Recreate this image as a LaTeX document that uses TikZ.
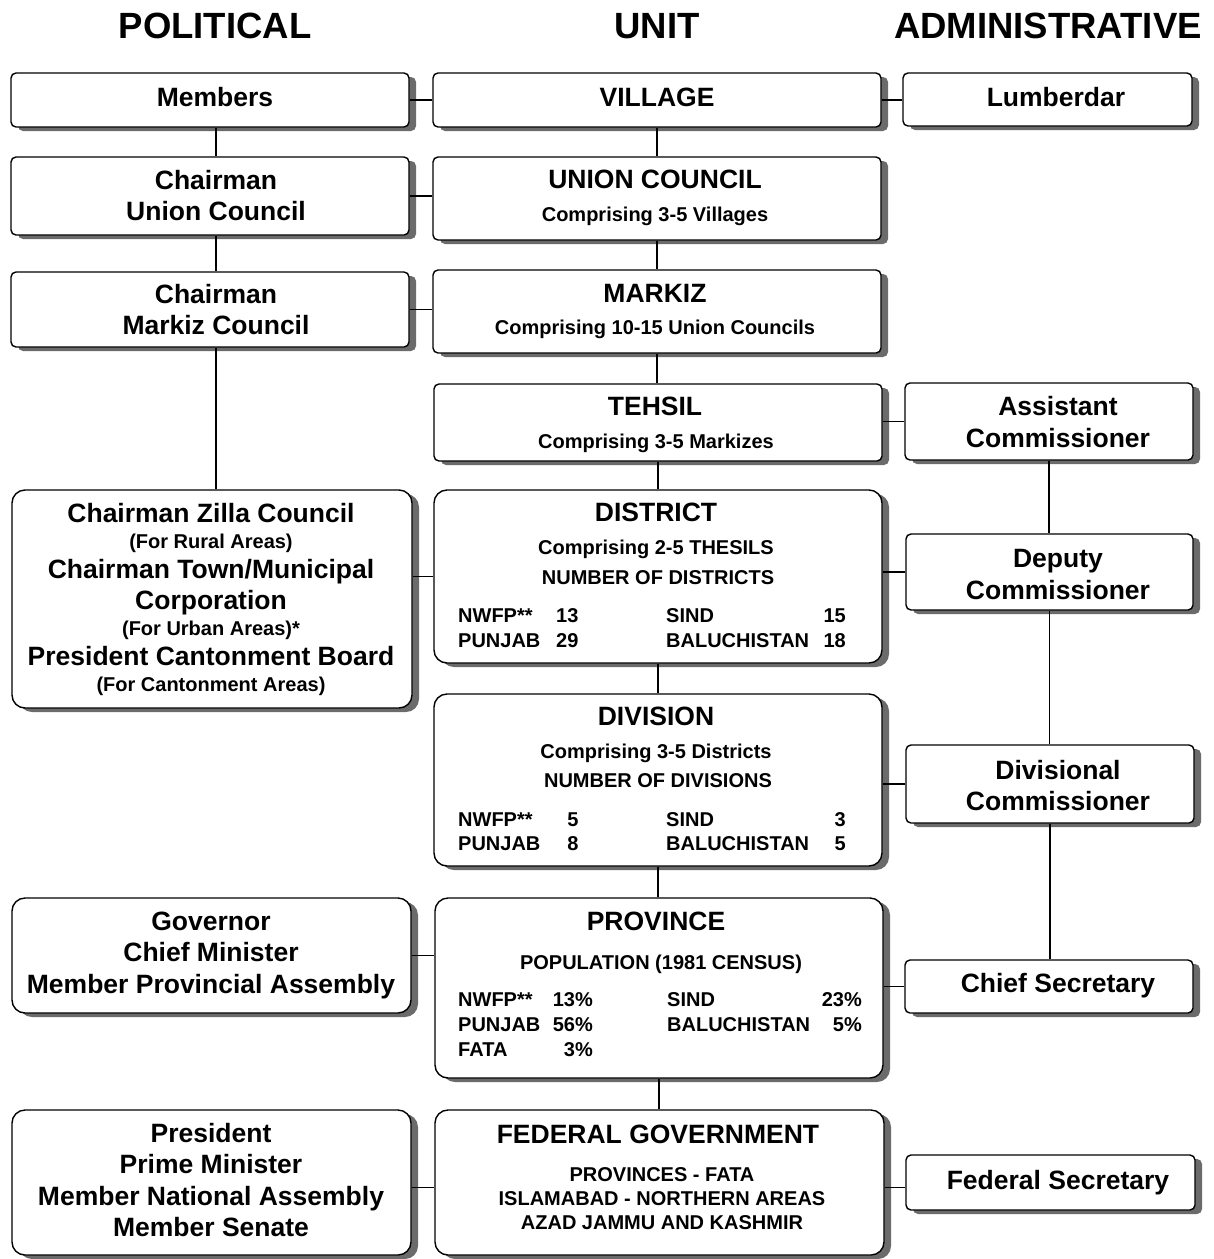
\documentclass[tikz,border=0pt]{standalone}
\usepackage{fontspec}
\setmainfont{Liberation Sans}
\usetikzlibrary{shadows}
\definecolor{shade}{gray}{0.42}
\newcommand\mkbox[6]{\node[#1, minimum width={#5-#3}, minimum height={#6-#4}] (#2) at ({(#3+#5)/2},{(#4+#6)/2}) {};}
\newcommand\tx[5]{\node[#1] (#2) at (#3,#4) {#5};}
\tikzset{
  box/.style={draw, line width=1.4pt, fill=white, rounded corners=5pt, inner sep=0pt,
    drop shadow={shadow xshift=7pt, shadow yshift=-4pt, fill=shade, opacity=1}},
  bigbox/.style={box, rounded corners=13pt},
  hdr/.style={font=\fontsize{36.5}{40}\selectfont\bfseries, inner sep=0pt, anchor=base},
  bigt/.style={font=\fontsize{26.5}{31}\selectfont\bfseries, inner sep=0pt, anchor=base},
  smallt/.style={font=\fontsize{20}{24}\selectfont\bfseries, inner sep=0pt, anchor=base},
  lt/.style={smallt, anchor=base west},
  rt/.style={smallt, anchor=base east},
  conn/.style={line width=1.1pt}
}
\begin{document}
\begin{tikzpicture}[x=1pt, y=-1pt]
\fill[white] (0,0) rectangle (1214,1259);
\useasboundingbox (0,0) rectangle (1214,1259);
% headers
\tx{hdr}{hpol}{215}{38}{POLITICAL}
\tx{hdr}{hunit}{657}{38}{UNIT}
\tx{hdr}{hadm}{1048}{38}{ADMINISTRATIVE}
% boxes left
\mkbox{box}{bmem}{11}{73}{409}{127}
\mkbox{box}{bucp}{11}{157}{409}{235}
\mkbox{box}{bmkp}{11}{272}{409}{347}
\mkbox{bigbox}{bzil}{12}{490}{412}{708}
\mkbox{bigbox}{bgov}{12}{898}{411}{1013}
\mkbox{bigbox}{bpre}{12}{1110}{411}{1255}
% boxes middle
\mkbox{box}{bvil}{433}{73}{881}{127}
\mkbox{box}{bucm}{433}{157}{881}{240}
\mkbox{box}{bmkm}{433}{270}{881}{353}
\mkbox{box}{bteh}{434}{384}{882}{461}
\mkbox{bigbox}{bdis}{434}{490}{882}{663}
\mkbox{bigbox}{bdiv}{434}{694}{882}{866}
\mkbox{bigbox}{bprv}{435}{898}{883}{1078}
\mkbox{bigbox}{bfed}{435}{1110}{884}{1255}
% boxes right
\mkbox{box}{blum}{903}{73}{1192}{126}
\mkbox{box}{bass}{905}{383}{1193}{460}
\mkbox{box}{bdep}{906}{534}{1193}{610}
\mkbox{box}{bdvc}{906}{745}{1194}{823}
\mkbox{box}{bchs}{905}{960}{1193}{1013}
\mkbox{box}{bfes}{906}{1155}{1195}{1210}
% connectors
\draw[conn] ([xshift=6pt]bmem.south) -- ([xshift=6pt]bmem.south |- bucp.north);
\draw[conn] ([xshift=6pt]bucp.south) -- ([xshift=6pt]bucp.south |- bmkp.north);
\draw[conn] ([xshift=6pt]bmkp.south) -- ([xshift=6pt]bmkp.south |- bzil.north);
\draw[conn] (bvil.south) -- (bvil.south |- bucm.north);
\draw[conn] (bucm.south) -- (bucm.south |- bmkm.north);
\draw[conn] (bmkm.south) -- (bmkm.south |- bteh.north);
\draw[conn] (bteh.south) -- (bteh.south |- bdis.north);
\draw[conn] (bdis.south) -- (bdis.south |- bdiv.north);
\draw[conn] (bdiv.south) -- (bdiv.south |- bprv.north);
\draw[conn] (bprv.south) -- (bprv.south |- bfed.north);
\draw[conn] (bass.south) -- (bass.south |- bdep.north);
\draw[conn] (bdep.south) -- (bdep.south |- bdvc.north);
\draw[conn] (bdvc.south) -- (bdvc.south |- bchs.north);
\draw[conn] (bmem.east) -- (bmem.east -| bvil.west);
\draw[conn] (bucp.east) -- (bucp.east -| bucm.west);
\draw[conn] (bmkp.east) -- (bmkp.east -| bmkm.west);
\draw[conn] (bdis.west) -- (bdis.west -| bzil.east);
\draw[conn] (bgov.east) -- (bgov.east -| bprv.west);
\draw[conn] ([yshift=-5pt]bpre.east) -- ([yshift=-5pt]bpre.east -| bfed.west);
\draw[conn] (bvil.east) -- (bvil.east -| blum.west);
\draw[conn] (bass.west) -- (bass.west -| bteh.east);
\draw[conn] (bdep.west) -- (bdep.west -| bdis.east);
\draw[conn] (bdvc.west) -- (bdvc.west -| bdiv.east);
\draw[conn] (bchs.west) -- (bchs.west -| bprv.east);
\draw[conn] ([yshift=-5pt]bfes.west) -- ([yshift=-5pt]bfes.west -| bfed.east);
% texts left
\tx{bigt}{t1}{215}{106}{Members}
\tx{bigt}{t2}{216}{189}{Chairman}
\tx{bigt}{t3}{216}{220}{Union Council}
\tx{bigt}{t4}{216}{303}{Chairman}
\tx{bigt}{t5}{216}{334}{Markiz Council}
\tx{bigt}{t6}{211}{522}{Chairman Zilla Council}
\tx{smallt}{t7}{211}{548}{(For Rural Areas)}
\tx{bigt}{t8}{211}{578}{Chairman Town/Municipal}
\tx{bigt}{t9}{211}{609}{Corporation}
\tx{smallt}{t10}{211}{635}{(For Urban Areas)*}
\tx{bigt}{t11}{211}{665}{President Cantonment Board}
\tx{smallt}{t12}{211}{691}{(For Cantonment Areas)}
\tx{bigt}{t13}{211}{930}{Governor}
\tx{bigt}{t14}{211}{961}{Chief Minister}
\tx{bigt}{t15}{211}{993}{Member Provincial Assembly}
\tx{bigt}{t16}{211}{1142}{President}
\tx{bigt}{t17}{211}{1173}{Prime Minister}
\tx{bigt}{t18}{211}{1205}{Member National Assembly}
\tx{bigt}{t19}{211}{1236}{Member Senate}
% texts middle
\tx{bigt}{m1}{657}{106}{VILLAGE}
\tx{bigt}{m2}{655}{188}{UNION COUNCIL}
\tx{smallt}{m3}{655}{221}{Comprising 3-5 Villages}
\tx{bigt}{m4}{655}{302}{MARKIZ}
\tx{smallt}{m5}{655}{334}{Comprising 10-15 Union Councils}
\tx{bigt}{m6}{655}{415}{TEHSIL}
\tx{smallt}{m7}{656}{448}{Comprising 3-5 Markizes}
\tx{bigt}{m8}{656}{521}{DISTRICT}
\tx{smallt}{m9}{656}{554}{Comprising 2-5 THESILS}
\tx{smallt}{m10}{658}{584}{NUMBER OF DISTRICTS}
\tx{lt}{m11}{458}{622}{NWFP**}
\tx{lt}{m12}{556}{622}{13}
\tx{lt}{m13}{666}{622}{SIND}
\tx{rt}{m14}{846}{622}{15}
\tx{lt}{m15}{458}{647}{PUNJAB}
\tx{lt}{m16}{556}{647}{29}
\tx{lt}{m17}{666}{647}{BALUCHISTAN}
\tx{rt}{m18}{846}{647}{18}
\tx{bigt}{m19}{656}{725}{DIVISION}
\tx{smallt}{m20}{656}{758}{Comprising 3-5 Districts}
\tx{smallt}{m21}{658}{787}{NUMBER OF DIVISIONS}
\tx{lt}{m22}{458}{826}{NWFP**}
\tx{smallt}{m23}{573}{826}{5}
\tx{lt}{m24}{666}{826}{SIND}
\tx{rt}{m25}{846}{826}{3}
\tx{lt}{m26}{458}{850}{PUNJAB}
\tx{smallt}{m27}{573}{850}{8}
\tx{lt}{m28}{666}{850}{BALUCHISTAN}
\tx{rt}{m29}{846}{850}{5}
\tx{bigt}{m30}{656}{930}{PROVINCE}
\tx{smallt}{m31}{661}{969}{POPULATION (1981 CENSUS)}
\tx{lt}{m32}{458}{1006}{NWFP**}
\tx{rt}{m33}{593}{1006}{13\%}
\tx{lt}{m34}{667}{1006}{SIND}
\tx{rt}{m35}{862}{1006}{23\%}
\tx{lt}{m36}{458}{1031}{PUNJAB}
\tx{rt}{m37}{593}{1031}{56\%}
\tx{lt}{m38}{667}{1031}{BALUCHISTAN}
\tx{rt}{m39}{862}{1031}{5\%}
\tx{lt}{m40}{458}{1056}{FATA}
\tx{rt}{m41}{593}{1056}{3\%}
\tx{bigt}{m42}{658}{1143}{FEDERAL GOVERNMENT}
\tx{smallt}{m43}{662}{1181}{PROVINCES - FATA}
\tx{smallt}{m44}{662}{1205}{ISLAMABAD - NORTHERN AREAS}
\tx{smallt}{m45}{662}{1229}{AZAD JAMMU AND KASHMIR}
% texts right
\tx{bigt}{r1}{1056}{106}{Lumberdar}
\tx{bigt}{r2}{1058}{415}{Assistant}
\tx{bigt}{r3}{1058}{447}{Commissioner}
\tx{bigt}{r4}{1058}{567}{Deputy}
\tx{bigt}{r5}{1058}{599}{Commissioner}
\tx{bigt}{r6}{1058}{779}{Divisional}
\tx{bigt}{r7}{1058}{810}{Commissioner}
\tx{bigt}{r8}{1058}{992}{Chief Secretary}
\tx{bigt}{r9}{1058}{1189}{Federal Secretary}
\end{tikzpicture}
\end{document}
